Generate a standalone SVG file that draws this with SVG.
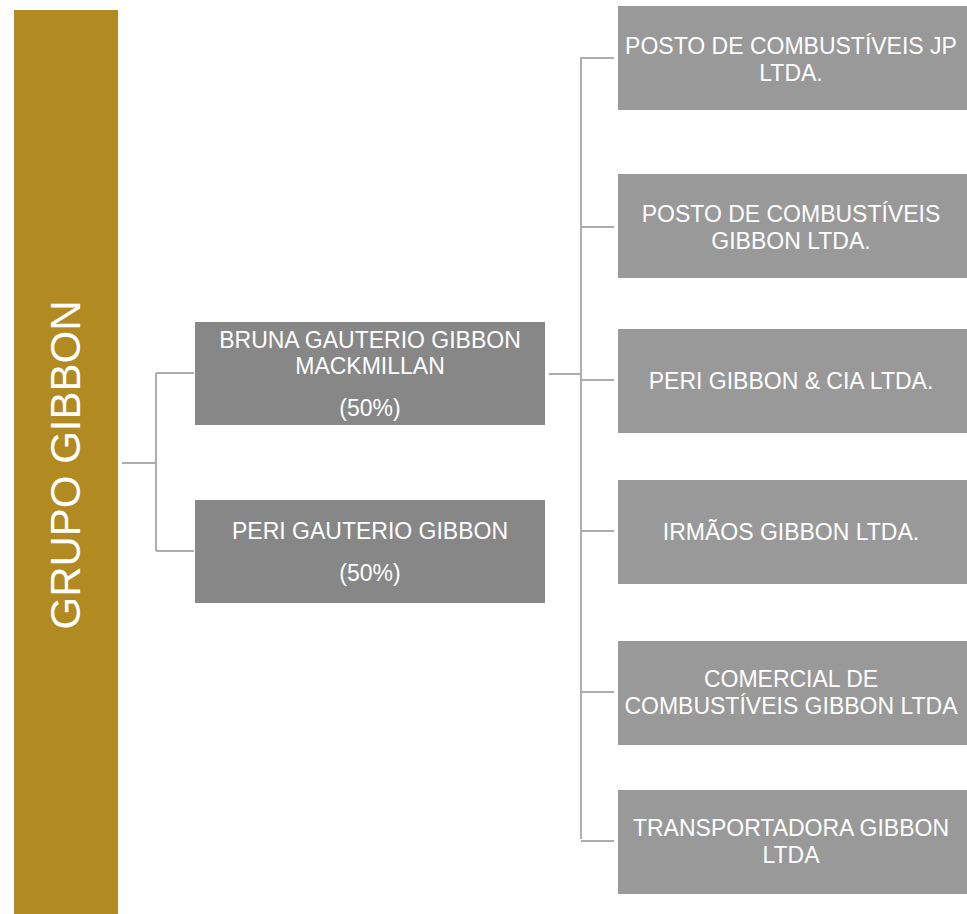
<svg xmlns="http://www.w3.org/2000/svg" width="967" height="914" viewBox="0 0 967 914">
<style>
.t{font-family:"Liberation Sans",Arial,sans-serif;fill:#fff;font-size:23px;text-anchor:middle}
.mid{fill:#878787}
.right{fill:#999999}
.c{stroke:#ADADAD;stroke-width:2;fill:none}
</style>
<rect x="0" y="0" width="967" height="914" fill="#fff"/>
<g id="grupo">
<rect x="14" y="10" width="104" height="904" fill="#B28A22"/>
<text class="t" transform="translate(80,465) rotate(-90)" style="font-size:42px">GRUPO GIBBON</text>
</g>
<g id="connectors">
<path class="c" d="M122,463 H156 M156,373 V551 M156,373 H194 M156,551 H194"/>
<path class="c" d="M549,374 H581 M581,57 V839 M581,58 H614 M581,227 H614 M581,380 H614 M581,531 H614 M581,692 H614 M581,841 H614"/>
</g>
<g id="bruna">
<rect class="mid" x="195" y="322" width="350" height="103"/>
<text class="t" x="370" y="348">BRUNA GAUTERIO GIBBON</text>
<text class="t" x="370" y="374">MACKMILLAN</text>
<text class="t" x="370" y="416">(50%)</text>
</g>
<g id="peri">
<rect class="mid" x="195" y="500" width="350" height="103"/>
<text class="t" x="370" y="539">PERI GAUTERIO GIBBON</text>
<text class="t" x="370" y="581">(50%)</text>
</g>
<g id="posto-jp">
<rect class="right" x="618" y="6" width="349" height="104"/>
<text class="t" x="791" y="54">POSTO DE COMBUSTÍVEIS JP</text>
<text class="t" x="791" y="81">LTDA.</text>
</g>
<g id="posto-gibbon">
<rect class="right" x="618" y="174" width="349" height="104"/>
<text class="t" x="791" y="222">POSTO DE COMBUSTÍVEIS</text>
<text class="t" x="791" y="249">GIBBON LTDA.</text>
</g>
<g id="peri-cia">
<rect class="right" x="618" y="329" width="349" height="104"/>
<text class="t" x="791" y="389">PERI GIBBON &amp; CIA LTDA.</text>
</g>
<g id="irmaos">
<rect class="right" x="618" y="480" width="349" height="104"/>
<text class="t" x="791" y="540">IRMÃOS GIBBON LTDA.</text>
</g>
<g id="comercial">
<rect class="right" x="618" y="641" width="349" height="104"/>
<text class="t" x="791" y="687">COMERCIAL DE</text>
<text class="t" x="791" y="714">COMBUSTÍVEIS GIBBON LTDA</text>
</g>
<g id="transportadora">
<rect class="right" x="618" y="790" width="349" height="104"/>
<text class="t" x="791" y="836">TRANSPORTADORA GIBBON</text>
<text class="t" x="791" y="863">LTDA</text>
</g>
</svg>
